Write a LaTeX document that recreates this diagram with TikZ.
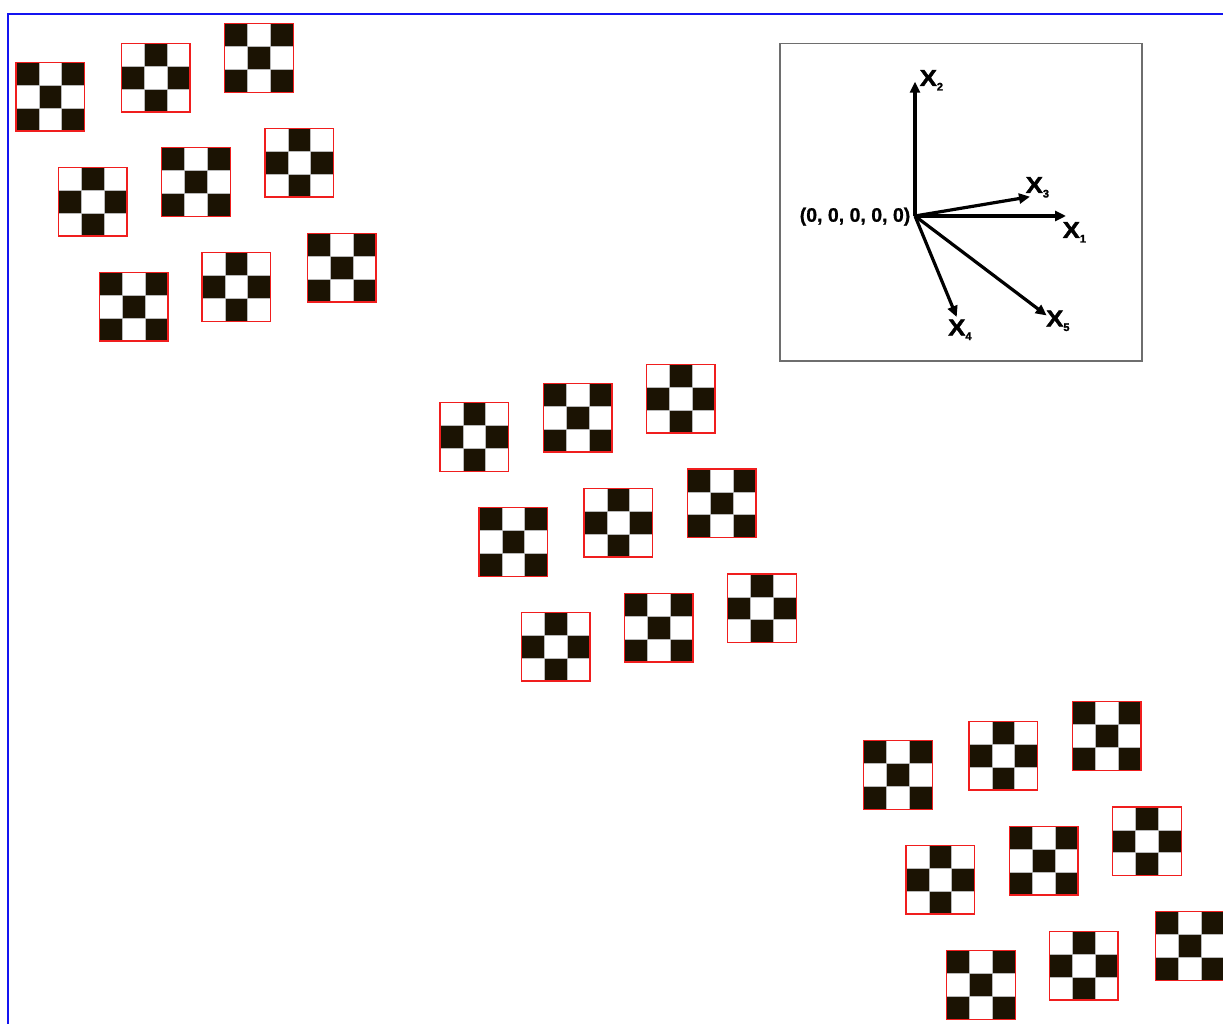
\documentclass[tikz,border=0pt]{standalone}
\usepackage{fontspec}
\setmainfont{Liberation Sans}
\newfontfamily\axfont[BoldFeatures={FakeBold=1.6}]{Liberation Sans}
\newfontfamily\orgfont[BoldFeatures={FakeBold=0.8}]{Liberation Sans}
\usetikzlibrary{arrows.meta}
\definecolor{tileblk}{RGB}{27,19,3}
\definecolor{tilered}{RGB}{240,30,30}
\definecolor{frameblue}{RGB}{20,20,240}
\definecolor{insetgray}{RGB}{110,110,110}
\def\ts{68.6}
\def\tc{22.867}
\tikzset{
  tileframe/.style={draw=tilered, line width=1.5pt},
  tilegrid/.style={draw=gray!55, line width=0.6pt},
  tilecell/.style={fill=tileblk},
  xtile/.pic={
    \foreach \i/\j in {0/0,2/0,1/1,0/2,2/2}
      \fill[tilecell] (\i*\tc,\j*\tc) rectangle ++(\tc,\tc);
    \draw[tilegrid] (\tc,0) -- (\tc,\ts) (2*\tc,0) -- (2*\tc,\ts)
                    (0,\tc) -- (\ts,\tc) (0,2*\tc) -- (\ts,2*\tc);
    \draw[tileframe] (0,0) rectangle (\ts,\ts);
  },
  ptile/.pic={
    \foreach \i/\j in {1/0,0/1,2/1,1/2}
      \fill[tilecell] (\i*\tc,\j*\tc) rectangle ++(\tc,\tc);
    \draw[tilegrid] (\tc,0) -- (\tc,\ts) (2*\tc,0) -- (2*\tc,\ts)
                    (0,\tc) -- (\ts,\tc) (0,2*\tc) -- (\ts,2*\tc);
    \draw[tileframe] (0,0) rectangle (\ts,\ts);
  },
  axarrow/.style={line width=3.2pt, -{Triangle[length=11pt,width=10pt]}},
  axlab/.style={inner sep=0pt, anchor=base west, font=\axfont\bfseries},
  originlab/.style={inner sep=0pt, anchor=base east, font=\fontsize{19.5}{19.5}\selectfont\orgfont\bfseries},
  insetbox/.style={draw=insetgray, line width=1.2pt},
  framelines/.style={draw=frameblue, line width=2pt}
}
\newcommand{\axsub}[1]{\raisebox{-4.5pt}{\fontsize{11}{11}\selectfont #1}}
\newcommand{\axX}{\scalebox{1.12}[1]{\fontsize{23}{23}\selectfont X}}
\begin{document}
\begin{tikzpicture}[x=1pt,y=-1pt]
\useasboundingbox (0,0) rectangle (1223,1024);
\fill[white] (0,0) rectangle (1223,1024);
% outer frame
\draw[framelines] (7.5,1024) -- (7.5,14) -- (1223,14);

% cluster 1
\pic (c1a) at (16,62.3) {xtile};
\pic (c1b) at (121.3,43.3) {ptile};
\pic (c1c) at (224.7,23.7) {xtile};
\pic (c1d) at (58.3,167.3) {ptile};
\pic (c1e) at (161.7,147.7) {xtile};
\pic (c1f) at (265,128.3) {ptile};
\pic (c1g) at (99.3,272.3) {xtile};
\pic (c1h) at (202,252.7) {ptile};
\pic (c1i) at (307.3,233.3) {xtile};

% cluster 2
\pic (c2a) at (440,402.7) {ptile};
\pic (c2b) at (543.3,383.3) {xtile};
\pic (c2c) at (646.3,364.3) {ptile};
\pic (c2d) at (479,507.7) {xtile};
\pic (c2e) at (584,488.3) {ptile};
\pic (c2f) at (687.3,469) {xtile};
\pic (c2g) at (521.3,612.3) {ptile};
\pic (c2h) at (624.3,593.3) {xtile};
\pic (c2i) at (727.7,574) {ptile};

% cluster 3
\pic (c3a) at (863.7,740.7) {xtile};
\pic (c3b) at (969,721.3) {ptile};
\pic (c3c) at (1072.3,701.7) {xtile};
\pic (c3d) at (906,845.3) {ptile};
\pic (c3e) at (1009.3,826.3) {xtile};
\pic (c3f) at (1112.7,807) {ptile};
\pic (c3g) at (946.7,950.7) {xtile};
\pic (c3h) at (1049.3,931.3) {ptile};
\pic (c3i) at (1155.3,911.7) {xtile};

% inset
\draw[insetbox] (780,43.5) rectangle (1142,361);
\coordinate (O) at (915,216);
\coordinate (e1) at (1066,216);
\coordinate (e2) at (915,81.7);
\coordinate (e3) at (1030,196.7);
\coordinate (e4) at (956.7,317);
\coordinate (e5) at (1046.7,315.5);
\draw[axarrow] (O) -- (e1);
\draw[axarrow] (O) -- (e2);
\draw[axarrow] (O) -- (e3);
\draw[axarrow] (O) -- (e4);
\draw[axarrow] (O) -- (e5);
\node[originlab] (olab) at (910.5,221.7) {(0, 0, 0, 0, 0)};
\node[axlab] (l1) at (1062.5,238) {\axX\axsub{1}};
\node[axlab] (l2) at (919.5,86) {\axX\axsub{2}};
\node[axlab] (l3) at (1025.5,193) {\axX\axsub{3}};
\node[axlab] (l4) at (948,335.5) {\axX\axsub{4}};
\node[axlab] (l5) at (1046,326.5) {\axX\axsub{5}};
\end{tikzpicture}
\end{document}
